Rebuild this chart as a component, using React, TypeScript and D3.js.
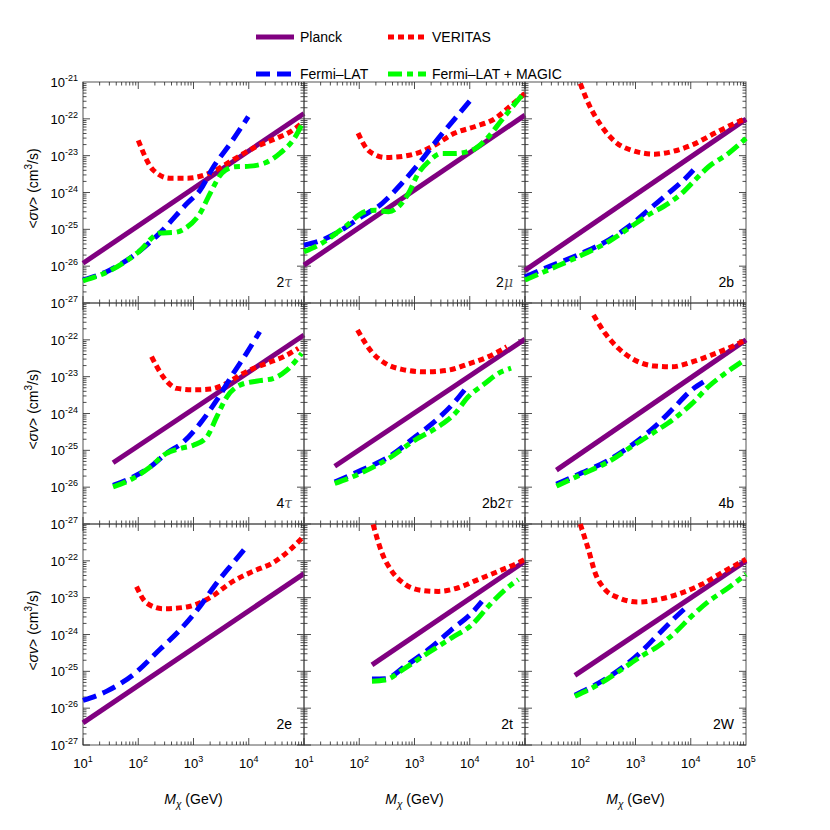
import React from "react";
import * as d3 from "d3";

// ---------- data (M in GeV, <σv> in cm^3/s) ----------
const panelLabels = [["2", "τ"], ["2", "μ"], ["2b", ""], ["4", "τ"], ["2b2", "τ"], ["4b", ""], ["2e", ""], ["2t", ""], ["2W", ""]];
const seriesNames = ["Planck", "VERITAS", "Fermi\u2013LAT", "Fermi\u2013LAT + MAGIC"];
const xTickExps = [1, 2, 3, 4, 5];
const yTickExps = [-21, -22, -23, -24, -25, -26, -27];

// 2τ
const planck_2tau = [[10, 1.2e-26], [1e5, 1.4e-22]];
const veritas_2tau = [[100, 2.6e-23], [186, 4.1e-24], [372, 2.45e-24], [760, 2.45e-24], [2000, 3.4e-24], [5100, 7.6e-24], [12000, 1.6e-23], [32000, 3.0e-23], [56000, 4.4e-23], [91000, 7.6e-23]];
const fermi_2tau = [[10, 4.2e-27], [31, 7.9e-27], [100, 2.4e-26], [245, 7.9e-26], [760, 5e-25], [1320, 1.17e-24], [2300, 5e-24], [4600, 2.1e-23], [9800, 1.15e-22]];
const magic_2tau = [[10, 4e-27], [31, 7.6e-27], [100, 2.4e-26], [245, 7.9e-26], [470, 8.3e-26], [710, 1.07e-25], [1320, 2.75e-25], [2000, 9.5e-25], [3300, 3.4e-24], [5600, 5e-24], [10500, 5.2e-24], [19500, 6.3e-24], [37000, 1.17e-23], [69000, 3.2e-23], [95000, 7.9e-23]];

// 2μ
const planck_2mu = [[10, 1.07e-26], [1e5, 1.26e-22]];
const veritas_2mu = [[95, 4.1e-23], [135, 1.58e-23], [195, 1.05e-23], [295, 8.9e-24], [676, 9.8e-24], [1350, 1.29e-23], [2340, 1.95e-23], [5370, 4.1e-23], [12600, 6.2e-23], [28800, 1.02e-22], [49000, 1.95e-22], [1e5, 4.9e-22]];
const fermi_2mu = [[10, 3.7e-26], [21, 5.1e-26], [42, 8.5e-26], [110, 2.2e-25], [257, 5e-25], [590, 1.78e-24], [1350, 7.6e-24], [2700, 2.95e-23], [5400, 1.02e-22], [11000, 3.6e-22]];
const magic_2mu = [[10, 2.45e-26], [21, 4.2e-26], [55, 1.17e-25], [126, 3e-25], [195, 3.3e-25], [340, 3e-25], [510, 4.1e-25], [780, 9.5e-25], [1170, 3.3e-24], [1780, 6.8e-24], [3100, 1.15e-23], [5400, 1.15e-23], [11000, 1.4e-23], [19000, 2.6e-23], [38000, 9.3e-23], [66000, 2.6e-22], [1e5, 5.5e-22]];

// 2b
const planck_2b = [[10, 7.7e-27], [1e5, 9.8e-23]];
const veritas_2b = [[100, 9.1e-22], [141, 2.6e-22], [245, 6.2e-23], [427, 2.4e-23], [850, 1.4e-23], [2240, 1.1e-23], [4570, 1.29e-23], [10500, 1.95e-23], [27500, 4.1e-23], [63000, 7.6e-23], [1e5, 1.02e-22]];
const fermi_2b = [[10, 5.1e-27], [26, 9.5e-27], [107, 2.24e-26], [324, 5.1e-26], [740, 1.17e-25], [1700, 3.3e-25], [3900, 9.5e-25], [6900, 1.95e-24], [11200, 4.1e-24]];
const magic_2b = [[10, 4.2e-27], [26, 7.8e-27], [107, 2e-26], [324, 4.6e-26], [740, 1.05e-25], [1700, 2.45e-25], [3900, 5e-25], [6900, 9.5e-25], [12000, 2.2e-24], [21000, 5e-24], [48000, 1.15e-23], [1e5, 2.95e-23]];

// 4τ
const planck_4tau = [[35, 4.6e-26], [1e5, 1.35e-22]];
const veritas_4tau = [[174, 3.5e-23], [282, 1e-23], [500, 4.8e-24], [1000, 4.4e-24], [2000, 4.6e-24], [4000, 6.6e-24], [6900, 1.1e-23], [12000, 1.66e-23], [21000, 2.3e-23], [43000, 3.5e-23], [79000, 5.9e-23]];
const fermi_4tau = [[35, 1.12e-26], [81, 1.9e-26], [162, 3.5e-26], [324, 8.3e-26], [660, 1.7e-25], [1320, 5.4e-25], [2630, 2.3e-24], [5250, 1.23e-23], [9100, 4.3e-23], [15800, 1.66e-22]];
const magic_4tau = [[35, 1.02e-26], [81, 1.74e-26], [162, 3.5e-26], [324, 8.3e-26], [575, 1.12e-25], [1000, 1.38e-25], [1740, 2.3e-25], [2630, 8.1e-25], [4000, 2.8e-24], [6900, 5.9e-24], [15800, 7.8e-24], [27500, 8.9e-24], [49000, 1.5e-23], [91000, 4.3e-23]];

// 2b2τ
const planck_2b2tau = [[36, 3.7e-26], [1e5, 1.05e-22]];
const veritas_2b2tau = [[93, 1.86e-22], [166, 4.8e-23], [295, 2.3e-23], [590, 1.58e-23], [1550, 1.35e-23], [4070, 1.5e-23], [9300, 2.2e-23], [21900, 3.5e-23], [46800, 6.5e-23]];
const fermi_2b2tau = [[36, 1.38e-26], [110, 2.9e-26], [340, 6.6e-26], [1020, 2.3e-25], [2700, 7.4e-25], [5400, 2.1e-24], [8100, 4.4e-24]];
const magic_2b2tau = [[36, 1.26e-26], [110, 2.45e-26], [340, 6e-26], [1020, 1.9e-25], [2700, 4.4e-25], [5400, 1e-24], [9300, 2.8e-24], [19000, 6.6e-24], [33000, 1.23e-23], [56000, 1.7e-23]];

// 4b
const planck_4b = [[37, 2.9e-26], [1e5, 1e-22]];
const veritas_4b = [[174, 4.7e-22], [282, 1.5e-22], [490, 5.9e-23], [980, 2.8e-23], [2240, 1.95e-23], [4570, 1.86e-23], [10500, 2.5e-23], [24000, 3.9e-23], [55000, 6.5e-23], [1e5, 1e-22]];
const fermi_4b = [[37, 1.2e-26], [107, 2.45e-26], [324, 5.4e-26], [850, 1.38e-25], [2240, 4.4e-25], [5100, 1.5e-24], [10500, 4.4e-24], [17000, 7.2e-24]];
const magic_4b = [[37, 1.07e-26], [107, 2.24e-26], [324, 4.9e-26], [850, 1.26e-25], [2240, 3.2e-25], [5100, 7.4e-25], [10500, 1.86e-24], [21000, 5.4e-24], [42000, 1.23e-23], [83000, 2.5e-23]];

// 2e
const planck_2e = [[10, 4e-27], [1e5, 4.5e-23]];
const veritas_2e = [[93, 2e-23], [141, 7.2e-24], [282, 5e-24], [760, 5.6e-24], [1740, 8.9e-24], [5250, 2.8e-23], [12000, 5.2e-23], [27500, 8.9e-23], [56000, 2e-22], [1e5, 4.7e-22]];
const fermi_2e = [[10, 1.62e-26], [27, 2.9e-26], [81, 8.1e-26], [245, 3.9e-25], [575, 1.35e-24], [1320, 5.9e-24], [2630, 2.5e-23], [5250, 8.9e-23], [9800, 2.75e-22]];
const magic_2e: number[][] = [];

// 2t
const planck_2t = [[170, 1.5e-25], [1e5, 9.8e-23]];
const veritas_2t = [[178, 9.8e-22], [257, 1.66e-22], [390, 5.2e-23], [676, 2.3e-23], [1350, 1.58e-23], [2700, 1.48e-23], [6200, 1.86e-23], [14100, 3.1e-23], [33000, 5.2e-23], [76000, 8.9e-23], [1e5, 1.1e-22]];
const fermi_2t = [[170, 6.2e-26], [295, 6.3e-26], [676, 1.38e-25], [1780, 3.9e-25], [4700, 1.35e-24], [11000, 3.9e-24], [16600, 7.9e-24]];
const magic_2t = [[170, 5.4e-26], [295, 5.8e-26], [676, 1.23e-25], [1780, 3.2e-25], [4700, 8.1e-25], [11000, 1.86e-24], [21900, 5.9e-24], [43700, 1.66e-23], [76000, 3.1e-23]];

// 2W
const planck_2W = [[80, 7.8e-26], [1e5, 1e-22]];
const veritas_2W = [[100, 1e-21], [141, 2e-22], [186, 4.7e-23], [282, 1.66e-23], [490, 1e-23], [1120, 7.6e-24], [2570, 8.9e-24], [6900, 1.35e-23], [15800, 2.3e-23], [36000, 4.7e-23], [1e5, 1.1e-22]];
const fermi_2W = [[80, 2.24e-26], [214, 4.8e-26], [562, 1.23e-25], [1290, 3.5e-25], [2570, 1e-24], [5100, 2.8e-24], [9100, 6.2e-24]];
const magic_2W = [[80, 2.1e-26], [214, 4.4e-26], [562, 1.12e-25], [1290, 2.6e-25], [2570, 4.8e-25], [5100, 1.1e-24], [10500, 3.2e-24], [21000, 7.9e-24], [48000, 1.86e-23], [1e5, 4.3e-23]];

const panelData = [
  [planck_2tau, veritas_2tau, fermi_2tau, magic_2tau],
  [planck_2mu, veritas_2mu, fermi_2mu, magic_2mu],
  [planck_2b, veritas_2b, fermi_2b, magic_2b],
  [planck_4tau, veritas_4tau, fermi_4tau, magic_4tau],
  [planck_2b2tau, veritas_2b2tau, fermi_2b2tau, magic_2b2tau],
  [planck_4b, veritas_4b, fermi_4b, magic_4b],
  [planck_2e, veritas_2e, fermi_2e, magic_2e],
  [planck_2t, veritas_2t, fermi_2t, magic_2t],
  [planck_2W, veritas_2W, fermi_2W, magic_2W],
];

// ---------- styles ----------
const COLORS = ["#800080", "#ff0000", "#0000ff", "#00ff00"];
const DASHES = ["none", "6,4", "14,7", "14,5,6,5"];
const LW = 5;
const FONT = "'Liberation Sans', Arial, Helvetica, sans-serif";

const PX = [83, 304, 525];
const PY = [82, 303, 524];
const S = 221;

function Panel({ idx }: { idx: number }) {
  const col = idx % 3;
  const row = Math.floor(idx / 3);
  const x0 = PX[col];
  const y0 = PY[row];
  const x = d3.scaleLog().domain([10, 1e5]).range([x0, x0 + S]);
  const y = d3.scaleLog().domain([1e-27, 1e-21]).range([y0 + S, y0]);
  const line = d3
    .line<number[]>()
    .x((d) => x(d[0]))
    .y((d) => y(d[1]))
    .curve(d3.curveMonotoneX);

  const ticks: JSX.Element[] = [];
  // x ticks
  for (let e = 1; e < 5; e++) {
    for (let m = 1; m < 10; m++) {
      const v = m * Math.pow(10, e);
      const px = x(v);
      const len = m === 1 ? 7 : 3.5;
      ticks.push(<line key={`xb${e}${m}`} x1={px} x2={px} y1={y0 + S} y2={y0 + S - len} />);
      ticks.push(<line key={`xt${e}${m}`} x1={px} x2={px} y1={y0} y2={y0 + len} />);
    }
  }
  for (let e = -27; e < -21; e++) {
    for (let m = 1; m < 10; m++) {
      const v = m * Math.pow(10, e);
      const py = y(v);
      const len = m === 1 ? 7 : 3.5;
      ticks.push(<line key={`yl${e}${m}`} x1={x0} x2={x0 + len} y1={py} y2={py} />);
      ticks.push(<line key={`yr${e}${m}`} x1={x0 + S} x2={x0 + S - len} y1={py} y2={py} />);
    }
  }

  const lbl = panelLabels[idx];
  return (
    <g>
      <rect x={x0} y={y0} width={S} height={S} fill="none" stroke="#555" strokeWidth={1} />
      <g stroke="#222" strokeWidth={0.8}>{ticks}</g>
      {panelData[idx].map((series, si) =>
        series.length > 1 ? (
          <path
            key={si}
            d={line(series) || ""}
            fill="none"
            stroke={COLORS[si]}
            strokeWidth={LW}
            strokeDasharray={DASHES[si]}
            strokeLinecap="butt"
          />
        ) : null
      )}
      <text x={x0 + S - 12} y={y0 + S - 16} textAnchor="end" fontSize={14} fontFamily={FONT} fill="#000">
        {lbl[0]}
        {lbl[1] ? <tspan fill="#555" fontFamily="'DejaVu Serif', serif" fontStyle="italic">{lbl[1]}</tspan> : null}
      </text>
    </g>
  );
}

export default function App() {
  const xAxisScales = PX.map((x0) => d3.scaleLog().domain([10, 1e5]).range([x0, x0 + S]));
  const yAxisScales = PY.map((y0) => d3.scaleLog().domain([1e-27, 1e-21]).range([y0 + S, y0]));
  const legendItems = [
    { name: seriesNames[0], x: 256, y: 37, si: 0 },
    { name: seriesNames[1], x: 388, y: 37, si: 1 },
    { name: seriesNames[2], x: 256, y: 74, si: 2 },
    { name: seriesNames[3], x: 388, y: 74, si: 3 },
  ];
  return (
    <svg width={830} height={830} style={{ position: "absolute", left: 0, top: 0, background: "#fff" }} fontFamily={FONT}>
      <rect x={0} y={0} width={830} height={830} fill="#fff" />
      {/* legend */}
      {legendItems.map((it) => (
        <g key={it.name}>
          <line x1={it.x} x2={it.x + 38} y1={it.y} y2={it.y} stroke={COLORS[it.si]} strokeWidth={LW} strokeDasharray={DASHES[it.si]} />
          <text x={it.x + 44} y={it.y + 5} fontSize={14} fill="#000">{it.name}</text>
        </g>
      ))}
      {panelData.map((_, i) => <Panel key={i} idx={i} />)}
      {/* y tick labels */}
      {yAxisScales.map((ys, r) =>
        yTickExps
          .filter((e) => r === 0 || e !== -21)
          .map((e) => (
            <text key={`yl${r}${e}`} x={78} y={ys(Math.pow(10, e)) + 5} textAnchor="end" fontSize={13} fill="#000">
              10<tspan dy={-6} fontSize={9}>{e}</tspan>
            </text>
          ))
      )}
      {/* x tick labels */}
      {xAxisScales.map((xs, c) =>
        xTickExps
          .filter((e) => c === 2 || e !== 5)
          .map((e) => (
            <text key={`xl${c}${e}`} x={xs(Math.pow(10, e))} y={768} textAnchor="middle" fontSize={13} fill="#000">
              10<tspan dy={-6} fontSize={9}>{e}</tspan>
            </text>
          ))
      )}
      {/* y titles */}
      {PY.map((y0, r) => (
        <text key={`yt${r}`} transform={`translate(38,${y0 + S / 2 - 4}) rotate(-90)`} textAnchor="middle" fontSize={14} fill="#000">
          &lt;<tspan fontStyle="italic">σv</tspan>&gt; (cm<tspan dy={-6} fontSize={10}>3</tspan><tspan dy={6}>/s)</tspan>
        </text>
      ))}
      {/* x titles */}
      {PX.map((x0, c) => (
        <text key={`xt${c}`} x={x0 + S / 2} y={804} textAnchor="middle" fontSize={14} fill="#000">
          <tspan fontStyle="italic">M</tspan>
          <tspan dy={4} fontSize={10} fontStyle="italic">χ</tspan>
          <tspan dy={-4}> (GeV)</tspan>
        </text>
      ))}
    </svg>
  );
}
